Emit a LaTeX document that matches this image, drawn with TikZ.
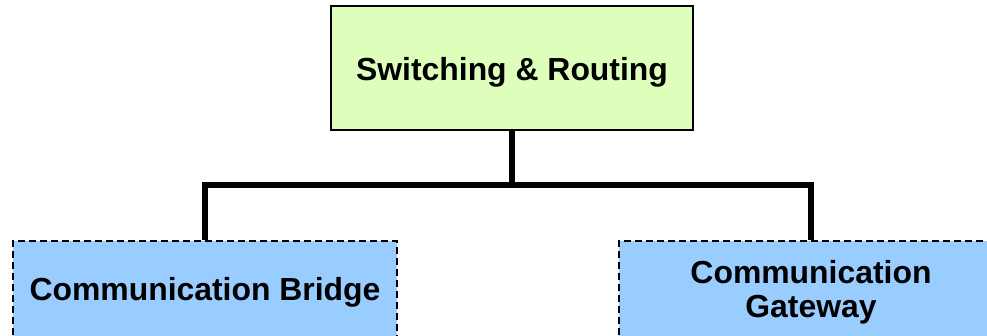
\documentclass[tikz,border=0pt]{standalone}
\usepackage{fontspec}
\setmainfont{Liberation Sans}
\definecolor{topfill}{HTML}{DDFFBB}
\definecolor{subfill}{HTML}{99CCFF}
\tikzset{
  topbox/.style={draw=black, line width=2pt, fill=topfill, minimum width=362pt,
    minimum height=124pt, inner sep=0pt, font=\fontsize{31.9}{34}\selectfont\bfseries},
  subbox/.style={draw=black, line width=1.6pt, dash pattern=on 7pt off 4pt, fill=subfill,
    minimum width=384pt, minimum height=102pt, inner sep=0pt, align=center,
    font=\fontsize{31.9}{34}\selectfont\bfseries},
  link/.style={line width=6pt, draw=black}
}
\begin{document}
\begin{tikzpicture}[x=1pt,y=-1pt]
  \useasboundingbox (0,0) rectangle (987,336);
  \clip (0,0) rectangle (987,336);
  \node[topbox] (sr) at (512,68) {\raisebox{-4pt}[\height][\depth]{Switching \& Routing}};
  \node[subbox] (cb) at (205,292) {Communication Bridge};
  \node[subbox] (cg) at (811,292) {Communication\\Gateway};
  \coordinate (hub) at (512,185);
  \draw[link] (sr.south) -- (hub);
  \draw[link] (cb.north) |- (hub) -| (cg.north);
\end{tikzpicture}
\end{document}
